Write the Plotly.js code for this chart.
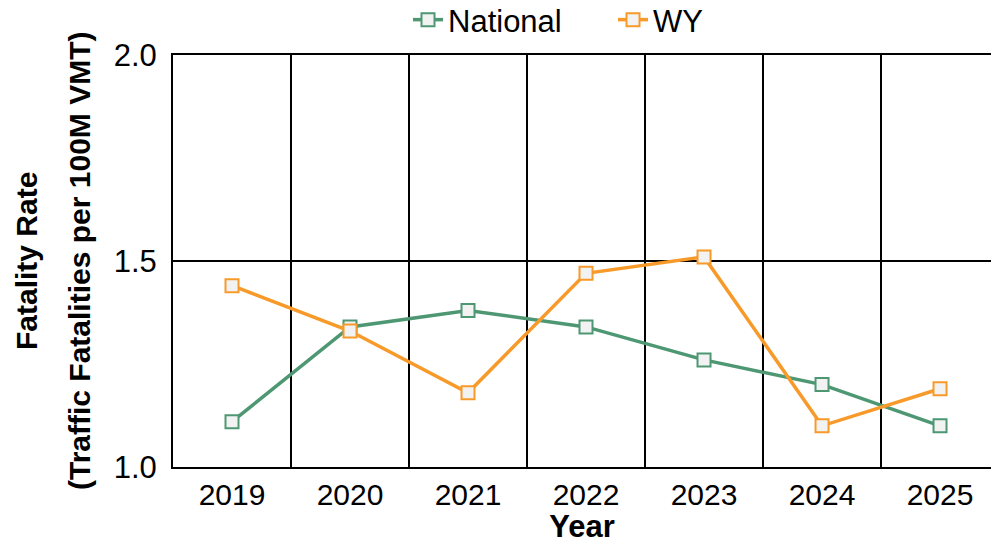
<!DOCTYPE html>
<html>
<head>
<meta charset="utf-8">
<script src="https://cdn.plot.ly/plotly-3.0.1.min.js"></script>
<style>html,body{margin:0;padding:0;background:#fff}#chart{width:991px;height:544px}</style>
</head>
<body>
<div id="chart"></div>
<script>
const years = ["2019", "2020", "2021", "2022", "2023", "2024", "2025"];
const national = [1.11, 1.34, 1.38, 1.34, 1.26, 1.20, 1.10];
const wy = [1.44, 1.33, 1.18, 1.47, 1.51, 1.10, 1.19];
const yTicks = [1.0, 1.5, 2.0];
const yTickText = ["1.0", "1.5", "2.0"];
const yTitleLines = ["Fatality Rate", "(Traffic Fatalities per 100M VMT)"];
const xTitle = "Year";

const green = "#4e9773";
const orange = "#f89a2a";
const FONT = "Liberation Sans, Arial, sans-serif";

const ML = 173, PW = 818;
function px2paper(px) { return (px - ML) / PW; }

function series(name, vals, color) {
  return {
    type: "scatter", mode: "lines+markers", name: name,
    x: years, y: vals,
    line: {color: color, width: 3.5},
    marker: {symbol: "square", size: 13, color: "#f2f2f2", line: {color: color, width: 2}},
    cliponaxis: false
  };
}

const data = [series("National", national, green), series("WY", wy, orange)];

const layout = {
  width: 991, height: 544,
  margin: {l: ML, r: 0, t: 55, b: 77, autoexpand: false},
  paper_bgcolor: "#fff", plot_bgcolor: "#fff",
  font: {family: FONT, color: "#000", size: 31},
  showlegend: true,
  legend: {orientation: "h", x: px2paper(408), xanchor: "left", xref: "paper", y: 1.085, yanchor: "middle",
           font: {size: 31, family: FONT}, entrywidth: 160, entrywidthmode: "pixels", bgcolor: "rgba(0,0,0,0)"},
  xaxis: {
    type: "category", range: [-0.5, 6.432], tickson: "boundaries",
    showgrid: true, gridcolor: "#000", gridwidth: 2,
    showline: true, linecolor: "#000", linewidth: 2, mirror: true,
    ticks: "", tickfont: {size: 30, family: FONT},
    title: {text: "<b>" + xTitle + "</b>", font: {size: 31, family: FONT}, standoff: 11},
    zeroline: false, fixedrange: true
  },
  yaxis: {
    range: [1.0, 2.0], tickvals: yTicks, ticktext: yTickText,
    showgrid: true, gridcolor: "#000", gridwidth: 2,
    showline: true, linecolor: "#000", linewidth: 2,
    ticks: "", ticklabelstandoff: 8, tickfont: {size: 31, family: FONT},
    zeroline: false, fixedrange: true
  },
  annotations: [
    {text: "<b>" + yTitleLines[0] + "</b>", xref: "paper", yref: "paper", x: px2paper(26), y: 0.5,
     xanchor: "center", yanchor: "middle", textangle: -90, showarrow: false, font: {size: 30, family: FONT}},
    {text: "<b>" + yTitleLines[1] + "</b>", xref: "paper", yref: "paper", x: px2paper(79), y: 0.5,
     xanchor: "center", yanchor: "middle", textangle: -90, showarrow: false, font: {size: 30, family: FONT}}
  ]
};

Plotly.newPlot("chart", data, layout, {displayModeBar: false, staticPlot: true});
</script>
</body>
</html>
